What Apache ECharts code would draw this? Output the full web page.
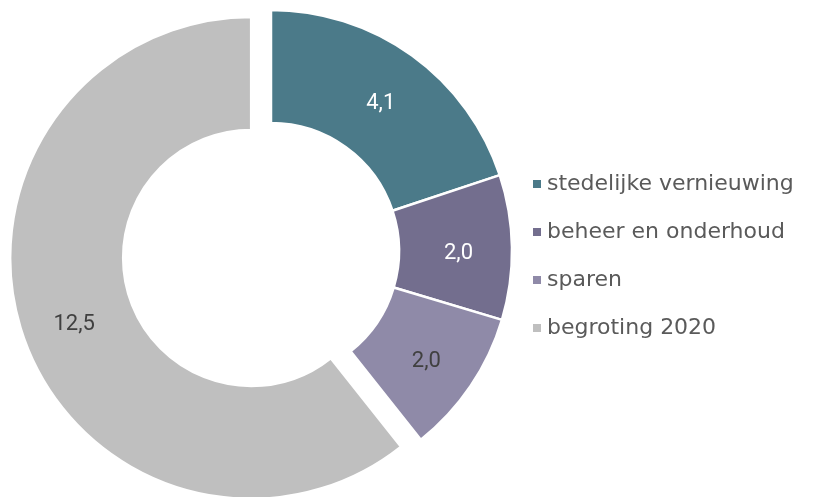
<!DOCTYPE html>
<html>
<head>
<meta charset="utf-8">
<script src="https://cdn.jsdelivr.net/npm/echarts@6/dist/echarts.min.js"></script>
<style>
  html, body { margin: 0; padding: 0; background: #fff; }
  #chart { width: 813px; height: 497px; }
</style>
</head>
<body>
<div id="chart"></div>
<script>
// chart data
var categories = ['stedelijke vernieuwing', 'beheer en onderhoud', 'sparen', 'begroting 2020'];
var values = [4.1, 2.0, 2.0, 12.5];
var colors = ['#4b7a89', '#736e8e', '#8f8aa8', '#bfbfbf'];
var labelColors = ['#ffffff', '#ffffff', '#404040', '#404040'];

var myChart = echarts.init(document.getElementById('chart'));

var pieData = categories.map(function (name, i) {
    return {
        name: name,
        value: values[i],
        selected: i === 3,
        itemStyle: { color: colors[i] },
        label: { color: labelColors[i] }
    };
});

var option = {
    animation: false,
    legend: {
        orient: 'vertical',
        left: 526,
        top: 168,
        itemWidth: 10,
        itemHeight: 10,
        itemGap: 26,
        icon: 'rect',
        selectedMode: false,
        textStyle: {
            fontFamily: 'DejaVu Sans',
            fontSize: 22,
            color: '#5a5a5a'
        },
        data: categories
    },
    series: [{
        type: 'pie',
        center: [271, 251],
        radius: [128, 241],
        startAngle: 90,
        selectedMode: 'single',
        selectedOffset: 21,
        itemStyle: { borderColor: '#ffffff', borderWidth: 2.5 },
        emphasis: { disabled: true },
        label: {
            show: true,
            position: 'inside',
            fontFamily: 'Roboto',
            fontSize: 22,
            formatter: function (p) {
                return p.value.toFixed(1).replace('.', ',');
            }
        },
        labelLayout: { dy: 5 },
        labelLine: { show: false },
        data: pieData
    }]
};

myChart.setOption(option);
</script>
</body>
</html>
